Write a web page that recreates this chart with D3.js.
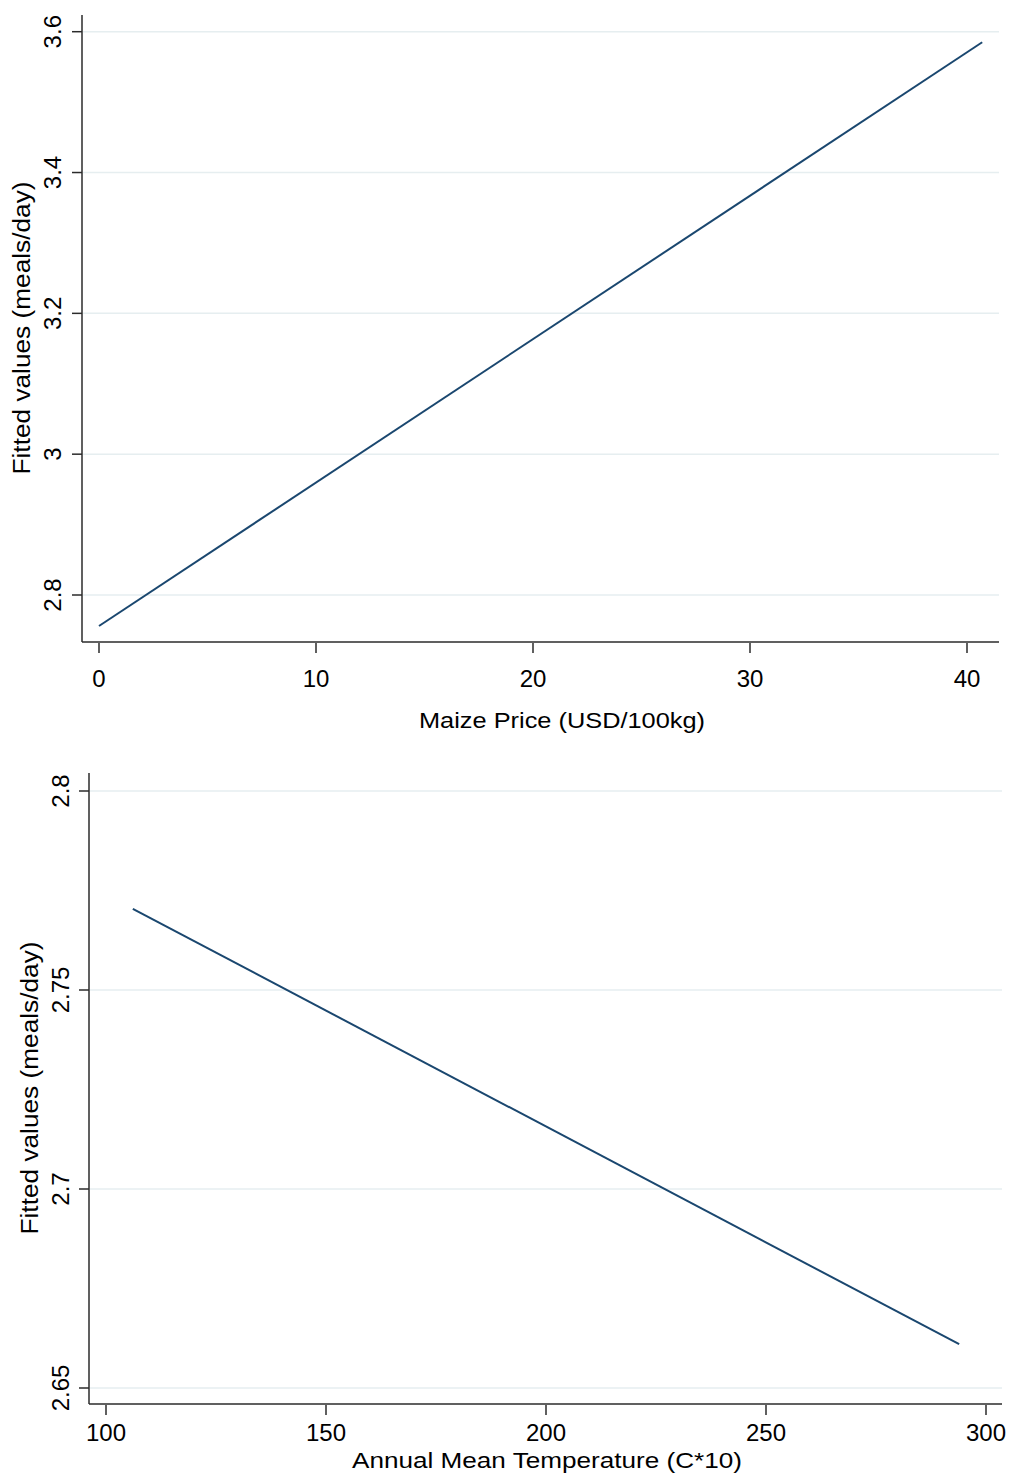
<!DOCTYPE html>
<html>
<head>
<meta charset="utf-8">
<script src="https://cdn.jsdelivr.net/npm/d3@7"></script>
<style>
  body { margin: 0; background: #fff; }
  svg { display: block; font-family: "Liberation Sans", Arial, Helvetica, sans-serif; }
</style>
</head>
<body>
<div id="chart"></div>
<script>
// top panel: maize price
var priceX = [0, 40.7];
var priceFit = [2.756, 3.585];
var priceXTicks = [0, 10, 20, 30, 40];
var priceYTicks = [2.8, 3, 3.2, 3.4, 3.6];

// bottom panel: temperature
var tempX = [106.1, 293.9];
var tempFit = [2.7704, 2.661];
var tempXTicks = [100, 150, 200, 250, 300];
var tempYTicks = [2.65, 2.7, 2.75, 2.8];

var lineColor = "#1a476f";
var gridColor = "#e6eef0";
var axisColor = "#2b2b2b";

var svg = d3.select("#chart").append("svg")
    .attr("width", 1010)
    .attr("height", 1479);

function drawPanel(cfg) {
    var x = d3.scaleLinear().domain(cfg.xDom).range(cfg.xRange);
    var y = d3.scaleLinear().domain(cfg.yDom).range(cfg.yRange);
    var g = svg.append("g");

    // gridlines
    g.selectAll(".grid").data(cfg.yTicks).enter().append("line")
        .attr("x1", cfg.left + 1).attr("x2", cfg.right)
        .attr("y1", function (d) { return y(d); })
        .attr("y2", function (d) { return y(d); })
        .attr("stroke", gridColor).attr("stroke-width", 1.5);

    // y axis
    g.append("line")
        .attr("x1", cfg.left).attr("x2", cfg.left)
        .attr("y1", cfg.top).attr("y2", cfg.bottom)
        .attr("stroke", axisColor).attr("stroke-width", 1.5);
    g.selectAll(".ytick").data(cfg.yTicks).enter().append("line")
        .attr("x1", cfg.left - 10).attr("x2", cfg.left)
        .attr("y1", function (d) { return y(d); })
        .attr("y2", function (d) { return y(d); })
        .attr("stroke", axisColor).attr("stroke-width", 1.5);
    g.selectAll(".ylab").data(cfg.yTicks).enter().append("text")
        .attr("transform", function (d) { return "translate(" + cfg.yLabX + "," + y(d) + ") rotate(-90)"; })
        .attr("text-anchor", "middle")
        .attr("font-size", 24)
        .text(function (d) { return d3.format("")(d); });

    // x axis
    g.append("line")
        .attr("x1", cfg.left).attr("x2", cfg.right)
        .attr("y1", cfg.bottom).attr("y2", cfg.bottom)
        .attr("stroke", axisColor).attr("stroke-width", 1.5);
    g.selectAll(".xtick").data(cfg.xTicks).enter().append("line")
        .attr("x1", function (d) { return x(d); })
        .attr("x2", function (d) { return x(d); })
        .attr("y1", cfg.bottom + 1).attr("y2", cfg.bottom + 11)
        .attr("stroke", axisColor).attr("stroke-width", 1.5);
    g.selectAll(".xlab").data(cfg.xTicks).enter().append("text")
        .attr("x", function (d) { return x(d); })
        .attr("y", cfg.xLabY)
        .attr("text-anchor", "middle")
        .attr("font-size", 24)
        .text(function (d) { return d; });

    // titles
    g.append("text")
        .attr("x", cfg.xTitleX).attr("y", cfg.xTitleY)
        .attr("text-anchor", "middle")
        .attr("font-size", 22)
        .attr("textLength", cfg.xTitleLen)
        .attr("lengthAdjust", "spacingAndGlyphs")
        .text(cfg.xTitle);
    g.append("text")
        .attr("transform", "translate(" + cfg.yTitleX + "," + cfg.yTitleY + ") rotate(-90)")
        .attr("text-anchor", "middle")
        .attr("font-size", 23)
        .attr("textLength", 293)
        .attr("lengthAdjust", "spacingAndGlyphs")
        .text("Fitted values (meals/day)");

    // fitted line
    var pts = cfg.xs.map(function (v, i) { return [v, cfg.ys[i]]; });
    g.append("path")
        .datum(pts)
        .attr("fill", "none")
        .attr("stroke", lineColor)
        .attr("stroke-width", 2)
        .attr("d", d3.line().x(function (d) { return x(d[0]); }).y(function (d) { return y(d[1]); }));
}

drawPanel({
    xDom: [0, 40], xRange: [99, 967],
    yDom: [2.8, 3.6], yRange: [595, 31.7],
    left: 82, right: 999, top: 15, bottom: 642,
    xTicks: priceXTicks, yTicks: priceYTicks,
    xs: priceX, ys: priceFit,
    yLabX: 61, xLabY: 687,
    xTitle: "Maize Price (USD/100kg)", xTitleX: 562, xTitleY: 728, xTitleLen: 286,
    yTitleX: 30, yTitleY: 328
});

drawPanel({
    xDom: [100, 300], xRange: [106, 986],
    yDom: [2.65, 2.8], yRange: [1388, 791],
    left: 89, right: 1002, top: 773, bottom: 1404,
    xTicks: tempXTicks, yTicks: tempYTicks,
    xs: tempX, ys: tempFit,
    yLabX: 69, xLabY: 1441,
    xTitle: "Annual Mean Temperature (C*10)", xTitleX: 547, xTitleY: 1468, xTitleLen: 390,
    yTitleX: 38, yTitleY: 1088
});
</script>
</body>
</html>
